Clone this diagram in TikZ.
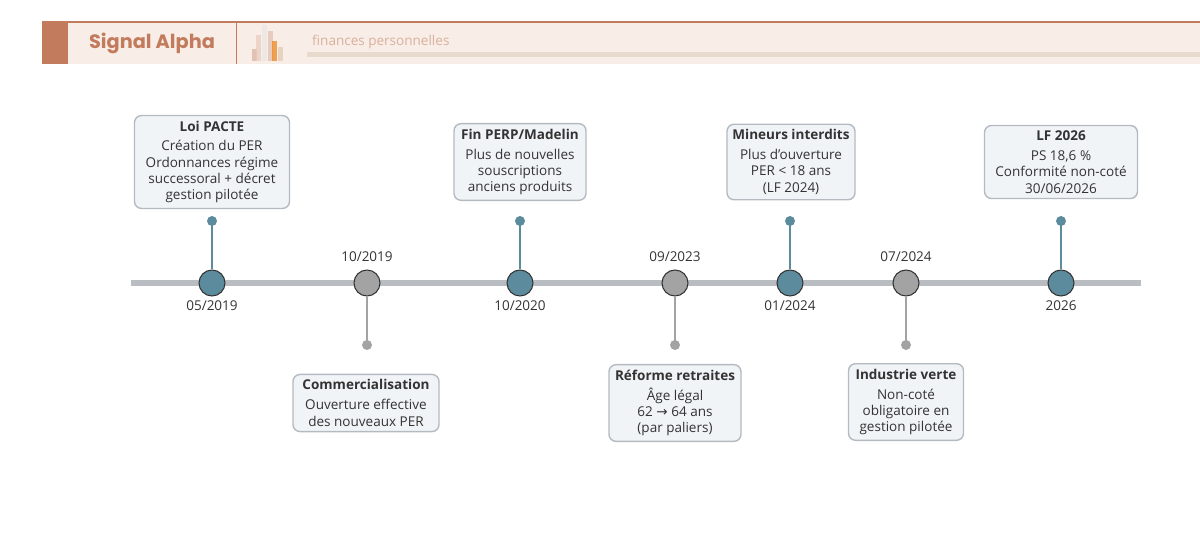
\documentclass[tikz,border=0pt]{standalone}
\usepackage{fontspec}
\setmainfont{Open Sans}
\newfontfamily\headfont{Poppins}
\newfontfamily\symfont{DejaVu Sans}
\definecolor{brick}{HTML}{C27B5C}
\definecolor{bandbg}{HTML}{F8EDE7}
\definecolor{bandbar}{HTML}{E9DACE}
\definecolor{axisgrey}{HTML}{B9BCC0}
\definecolor{teal}{HTML}{5B8B9D}
\definecolor{dotgrey}{HTML}{A3A3A3}
\definecolor{boxbg}{HTML}{F1F4F7}
\definecolor{boxline}{HTML}{B4BAC1}
\definecolor{ink}{HTML}{333333}
\begin{document}
\begin{tikzpicture}[x=0.02cm,y=-0.02cm,
    event/.style={draw=boxline,fill=boxbg,rounded corners=4pt,line width=0.8pt,align=center,
      font=\fontsize{7.7}{9.3}\selectfont,text=ink,inner sep=3pt},
    blue/.style={circle,draw=ink,fill=teal,minimum size=0.52cm,inner sep=0pt,line width=0.6pt},
    grey/.style={circle,draw=ink,fill=dotgrey,minimum size=0.52cm,inner sep=0pt,line width=0.6pt},
    date/.style={font=\fontsize{7.7}{9}\selectfont,text=ink},
    stem/.style={line width=0.9pt}]
\useasboundingbox (0,0) rectangle (1200,541);
% header
\fill[bandbg] (42,22) rectangle (1200,64);
\draw[brick,line width=0.6pt] (42,22) -- (1200,22);
\fill[brick] (42,22) rectangle (68,64);
\draw[brick,line width=0.5pt] (236,22) -- (236,64);
\node[text=brick,font=\headfont\bfseries\fontsize{11}{13}\selectfont] (brand) at (152,43) {Signal Alpha};
\foreach \x/\h/\c in {252/12/brick!60,256/26/brick!40,262/36/bandbar!80!black!30,268/30/brick!50,272/20/orange!70!brown,278/14/bandbar!80!brown}
  \fill[\c,opacity=0.7] (\x,61) rectangle ++(5,-\h);
\fill[bandbar] (307,52) rectangle (1200,57);
\node[anchor=west,text=brick!60!white,font=\fontsize{7.7}{9}\selectfont] (sub) at (306,42) {finances personnelles};
% axis
\draw[axisgrey,line width=0.12cm] (131,283) -- (1141,283);
% milestones
\node[blue] (m1) at (212,283) {};
\node[grey] (m2) at (367,283) {};
\node[blue] (m3) at (520,283) {};
\node[grey] (m4) at (675,283) {};
\node[blue] (m5) at (790,283) {};
\node[grey] (m6) at (906,283) {};
\node[blue] (m7) at (1061,283) {};
\foreach \m/\d in {m1/05\slash 2019,m3/10\slash 2020,m5/01\slash 2024,m7/2026}
  \node[date] at ([yshift=-0.46cm]\m) {\d};
\foreach \m/\d in {m2/10\slash 2019,m4/09\slash 2023,m6/07\slash 2024}
  \node[date] at ([yshift=0.52cm]\m) {\d};
% stems
\foreach \m in {m1,m3,m5,m7}{
  \coordinate (t\m) at ([yshift=1.24cm]\m);
  \draw[teal,stem] (\m.north) -- (t\m);
  \fill[teal] (t\m) circle (0.1cm);
}
\foreach \m in {m2,m4,m6}{
  \coordinate (b\m) at ([yshift=-1.24cm]\m);
  \draw[dotgrey,stem] (\m.south) -- (b\m);
  \fill[dotgrey] (b\m) circle (0.1cm);
}
% boxes
\node[event,minimum width=3.1cm] (e1) at (212,162) {\textbf{Loi PACTE}\\[2pt]Création du PER\\Ordonnances régime\\successoral + décret\\gestion pilotée};
\node[event,minimum width=2.64cm] (e3) at (520,162) {\textbf{Fin PERP/Madelin}\\[2pt]Plus de nouvelles\\souscriptions\\anciens produits};
\node[event,minimum width=2.56cm] (e5) at (791,162) {\textbf{Mineurs interdits}\\[2pt]Plus d'ouverture\\PER < 18 ans\\(LF 2024)};
\node[event,minimum width=3.06cm] (e7) at (1061,162) {\textbf{LF 2026}\\[2pt]PS 18,6 \%\\Conformité non-coté\\30/06/2026};
\node[event,minimum width=2.92cm] (e2) at (366,403) {\textbf{Commercialisation}\\[2pt]Ouverture effective\\des nouveaux PER};
\node[event,minimum width=2.64cm] (e4) at (675,403) {\textbf{Réforme retraites}\\[2pt]Âge légal\\62 {\symfont →} 64 ans\\(par paliers)};
\node[event,minimum width=2.3cm] (e6) at (906,402) {\textbf{Industrie verte}\\[2pt]Non-coté\\obligatoire en\\gestion pilotée};
\end{tikzpicture}
\end{document}
